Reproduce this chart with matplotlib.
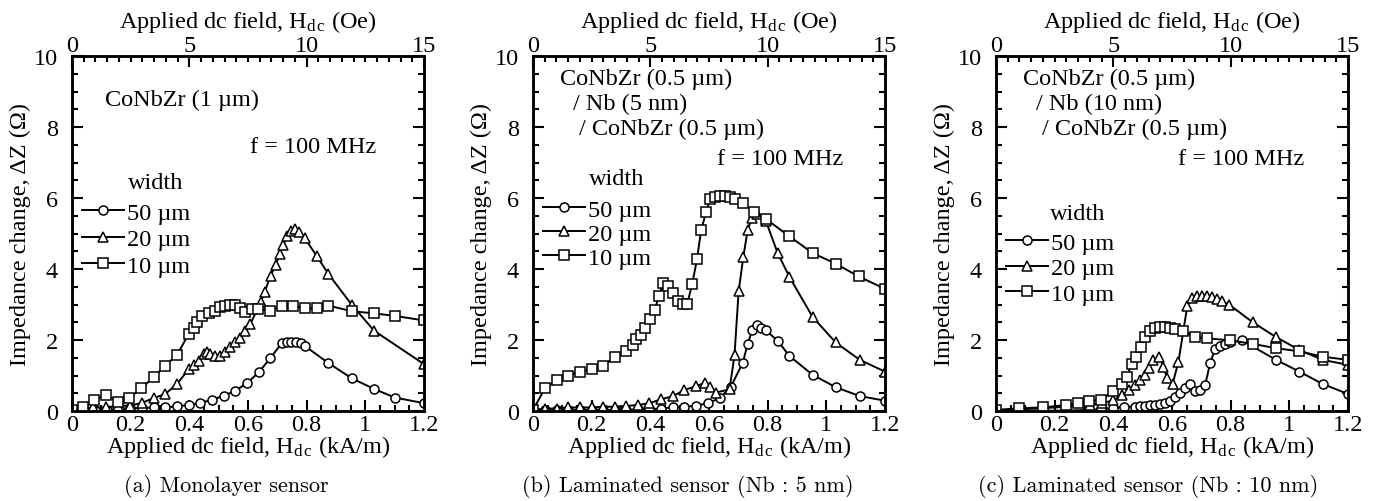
import numpy as np
import matplotlib
matplotlib.use("Agg")
import matplotlib.pyplot as plt
from matplotlib.ticker import MultipleLocator

plt.rcParams['font.family'] = ['Liberation Serif', 'DejaVu Serif']
plt.rcParams['mathtext.fontset'] = 'custom'
plt.rcParams['mathtext.rm'] = 'Liberation Serif'
plt.rcParams['mathtext.it'] = 'Liberation Serif:italic'

# ---- data (x in kA/m, y in ohm) ----
# (a) monolayer
a50_x = [0.0, 0.04, 0.08, 0.12, 0.16, 0.198, 0.238, 0.278, 0.318, 0.358, 0.398, 0.438, 0.478, 0.518,
         0.557, 0.597, 0.637, 0.675, 0.715, 0.732, 0.745, 0.762, 0.78, 0.796, 0.874, 0.954, 1.03, 1.1, 1.2]
a50_y = [0.0, 0.02, 0.03, 0.04, 0.05, 0.08, 0.08, 0.1, 0.1, 0.13, 0.17, 0.23, 0.32, 0.43,
         0.57, 0.79, 1.09, 1.48, 1.91, 1.93, 1.94, 1.94, 1.92, 1.82, 1.35, 0.92, 0.62, 0.38, 0.22]
a20_x = [0.0, 0.036, 0.073, 0.116, 0.158, 0.198, 0.238, 0.278, 0.318, 0.358, 0.398, 0.415, 0.432, 0.449,
         0.46, 0.472, 0.489, 0.506, 0.523, 0.54, 0.557, 0.574, 0.591, 0.608, 0.643, 0.657, 0.677, 0.694,
         0.708, 0.72, 0.734, 0.745, 0.76, 0.774, 0.794, 0.834, 0.874, 0.954, 1.03, 1.2]
a20_y = [0.0, 0.05, 0.1, 0.1, 0.15, 0.15, 0.23, 0.36, 0.48, 0.76, 1.18, 1.3, 1.42, 1.61,
         1.67, 1.61, 1.56, 1.56, 1.65, 1.79, 1.93, 2.07, 2.26, 2.45, 3.06, 3.36, 3.81, 4.11,
         4.42, 4.68, 4.92, 5.08, 5.13, 5.05, 4.86, 4.37, 3.86, 2.99, 2.26, 1.32]
a10_x = [0.0, 0.036, 0.076, 0.116, 0.156, 0.196, 0.236, 0.278, 0.318, 0.358, 0.398, 0.415, 0.426, 0.443,
         0.466, 0.489, 0.506, 0.523, 0.54, 0.557, 0.574, 0.591, 0.614, 0.633, 0.675, 0.715, 0.755, 0.794,
         0.834, 0.874, 0.954, 1.03, 1.1, 1.2]
a10_y = [0.04, 0.1, 0.32, 0.45, 0.26, 0.37, 0.64, 0.95, 1.28, 1.58, 2.17, 2.33, 2.5, 2.69,
         2.76, 2.83, 2.92, 2.97, 2.99, 2.99, 2.89, 2.8, 2.86, 2.87, 2.83, 2.95, 2.97, 2.89,
         2.89, 2.97, 2.81, 2.75, 2.68, 2.55]

# (b) laminated, Nb 5 nm
b50_x = [0.0, 0.041, 0.081, 0.12, 0.16, 0.2, 0.239, 0.279, 0.318, 0.358, 0.397, 0.437, 0.477, 0.516,
         0.556, 0.596, 0.636, 0.675, 0.715, 0.732, 0.747, 0.762, 0.777, 0.794, 0.834, 0.874, 0.953,
         1.032, 1.114, 1.2]
b50_y = [0.0, 0.02, 0.02, 0.03, 0.03, 0.03, 0.03, 0.03, 0.03, 0.05, 0.05, 0.07, 0.1, 0.12,
         0.15, 0.22, 0.36, 0.69, 1.36, 1.89, 2.27, 2.43, 2.34, 2.27, 1.98, 1.55, 1.02,
         0.67, 0.42, 0.29]
b20_x = [0.0, 0.041, 0.081, 0.12, 0.16, 0.2, 0.239, 0.279, 0.318, 0.358, 0.397, 0.437, 0.477, 0.516,
         0.556, 0.588, 0.604, 0.624, 0.67, 0.687, 0.701, 0.717, 0.732, 0.747, 0.762, 0.794, 0.834,
         0.874, 0.953, 1.032, 1.114, 1.2]
b20_y = [0.03, 0.07, 0.07, 0.1, 0.1, 0.1, 0.12, 0.12, 0.14, 0.17, 0.22, 0.33, 0.42, 0.59,
         0.7, 0.8, 0.67, 0.52, 0.61, 1.58, 3.37, 4.34, 5.11, 5.44, 5.54, 5.35, 4.45,
         3.78, 2.65, 1.93, 1.44, 1.11]
b10_x = [0.0, 0.041, 0.081, 0.12, 0.16, 0.2, 0.239, 0.279, 0.318, 0.341, 0.352, 0.369, 0.381, 0.4,
         0.415, 0.429, 0.443, 0.46, 0.477, 0.494, 0.511, 0.526, 0.543, 0.559, 0.573, 0.59, 0.604,
         0.621, 0.639, 0.656, 0.673, 0.69, 0.715, 0.755, 0.794, 0.874, 0.953, 1.032, 1.11, 1.2]
b10_y = [0.03, 0.64, 0.86, 0.99, 1.11, 1.18, 1.27, 1.53, 1.68, 1.86, 2.02, 2.15, 2.34, 2.59,
         2.85, 3.23, 3.61, 3.51, 3.32, 3.09, 3.02, 3.02, 3.59, 4.27, 5.09, 5.6, 5.98,
         6.04, 6.05, 6.05, 6.04, 5.98, 5.85, 5.6, 5.41, 4.92, 4.45, 4.15, 3.79, 3.44]

# (c) laminated, Nb 10 nm
c50_x = [0.0, 0.08, 0.16, 0.239, 0.318, 0.358, 0.398, 0.436, 0.474, 0.491, 0.508, 0.525, 0.542, 0.559,
         0.576, 0.593, 0.61, 0.627, 0.644, 0.661, 0.678, 0.696, 0.713, 0.73, 0.747, 0.764, 0.781,
         0.798, 0.838, 0.955, 1.034, 1.114, 1.2]
c50_y = [0.0, 0.01, 0.01, 0.01, 0.03, 0.05, 0.08, 0.12, 0.12, 0.14, 0.15, 0.16, 0.18, 0.2,
         0.23, 0.29, 0.39, 0.5, 0.64, 0.76, 0.55, 0.59, 0.73, 1.35, 1.74, 1.84, 1.89,
         1.93, 1.99, 1.44, 1.11, 0.76, 0.48]
c20_x = [0.0, 0.08, 0.16, 0.24, 0.32, 0.36, 0.4, 0.43, 0.455, 0.474, 0.491, 0.508, 0.523, 0.536,
         0.557, 0.571, 0.584, 0.602, 0.622, 0.652, 0.667, 0.684, 0.701, 0.718, 0.735, 0.752, 0.77,
         0.796, 0.875, 0.955, 1.034, 1.114, 1.2]
c20_y = [0.0, 0.05, 0.08, 0.12, 0.18, 0.22, 0.3, 0.45, 0.59, 0.73, 0.88, 1.02, 1.21, 1.44,
         1.52, 1.25, 0.92, 0.76, 1.39, 2.95, 3.18, 3.23, 3.23, 3.23, 3.21, 3.16, 3.09,
         2.99, 2.5, 2.08, 1.72, 1.44, 1.3]
c10_x = [0.0, 0.08, 0.159, 0.239, 0.278, 0.318, 0.358, 0.398, 0.428, 0.446, 0.463, 0.477, 0.493, 0.508,
         0.525, 0.542, 0.559, 0.576, 0.593, 0.61, 0.639, 0.678, 0.718, 0.798, 0.875, 0.955, 1.034,
         1.114, 1.2]
c10_y = [0.03, 0.08, 0.1, 0.17, 0.22, 0.29, 0.31, 0.55, 0.76, 0.97, 1.33, 1.53, 1.8, 2.08,
         2.24, 2.34, 2.36, 2.36, 2.34, 2.31, 2.25, 2.08, 2.05, 1.99, 1.89, 1.77, 1.68,
         1.53, 1.44]

widths = ['50 µm', '20 µm', '10 µm']
markers = ['o', '^', 's']
marker_sizes = [6.5, 6.5, 7.5]
captions = ['(a) Monolayer sensor', '(b) Laminated sensor (Nb : 5 nm)', '(c) Laminated sensor (Nb : 10 nm)']
samples = [['CoNbZr (1 µm)'],
           ['CoNbZr (0.5 µm)', '/ Nb (5 nm)', '/ CoNbZr (0.5 µm)'],
           ['CoNbZr (0.5 µm)', '/ Nb (10 nm)', '/ CoNbZr (0.5 µm)']]
panels = [[(a50_x, a50_y), (a20_x, a20_y), (a10_x, a10_y)],
          [(b50_x, b50_y), (b20_x, b20_y), (b10_x, b10_y)],
          [(c50_x, c50_y), (c20_x, c20_y), (c10_x, c10_y)]]

W, H = 1383, 502
fig = plt.figure(figsize=(W / 100, H / 100), dpi=100)

lefts = [72, 533, 996]
wpx = 352
FS = 17.5

# layout of annotations per panel (axes fraction)
sample_pos = [[(0.094, 0.879)],
              [(0.077, 0.938), (0.113, 0.866), (0.130, 0.795)],
              [(0.077, 0.938), (0.113, 0.866), (0.130, 0.795)]]
freq_pos = [(0.507, 0.744), (0.524, 0.711), (0.517, 0.711)]
width_pos = [(0.16, 0.645), (0.16, 0.656), (0.153, 0.555)]
leg_top = [0.589, 0.598, 0.505]
leg_space = [0.18, 0.08, 0.14]
cap_x = [226, 688, 1148]

for i, l in enumerate(lefts):
    ax = fig.add_axes([l / W, 1 - 412 / H, wpx / W, 355 / H])
    for (x, y), m, ms, lab in zip(panels[i], markers, marker_sizes, widths):
        ax.plot(x, y, color='black', lw=1.4, marker=m, ms=ms, mfc='white', mec='black',
                mew=1.1, label=lab)
    ax.set_xlim(0, 1.2)
    ax.set_ylim(0, 10)
    ax.xaxis.set_major_locator(MultipleLocator(0.2))
    ax.xaxis.set_minor_locator(MultipleLocator(0.05))
    ax.yaxis.set_major_locator(MultipleLocator(2))
    ax.yaxis.set_minor_locator(MultipleLocator(0.5))
    ax.set_xticks([0, 0.2, 0.4, 0.6, 0.8, 1.0, 1.2])
    ax.set_xticklabels(['0', '0.2', '0.4', '0.6', '0.8', '1', '1.2'])
    ax.tick_params(which='both', direction='in', right=True, labelsize=FS, width=1.5)
    ax.tick_params(axis='x', pad=2)
    ax.tick_params(axis='y', pad=10)
    ax.tick_params(which='major', length=8)
    ax.tick_params(which='minor', length=4)
    for s in ax.spines.values():
        s.set_linewidth(1.8)
    ax.set_xlabel(r'Applied dc field, H$_{\rm d\,c}$ (kA/m)', fontsize=FS, labelpad=-1)
    ax.set_ylabel(r'Impedance change, ΔZ (Ω)', fontsize=FS, labelpad=2)

    top = ax.twiny()
    top.set_xlim(0, 15)
    top.xaxis.set_major_locator(MultipleLocator(5))
    top.xaxis.set_minor_locator(MultipleLocator(0.5))
    top.tick_params(which='both', direction='in', labelsize=FS, width=1.5, pad=0)
    top.tick_params(which='major', length=8)
    top.tick_params(which='minor', length=4)
    top.set_xlabel(r'Applied dc field, H$_{\rm d\,c}$ (Oe)', fontsize=FS, labelpad=6)
    for s in top.spines.values():
        s.set_linewidth(1.8)

    for txt, (tx, ty) in zip(samples[i], sample_pos[i]):
        ax.text(tx, ty, txt, transform=ax.transAxes, fontsize=FS, va='center', ha='left')
    ax.text(*freq_pos[i], 'f = 100 MHz', transform=ax.transAxes, fontsize=FS, va='center', ha='left')
    ax.text(*width_pos[i], 'width', transform=ax.transAxes, fontsize=FS, va='center', ha='left')
    ax.legend(loc='upper left', bbox_to_anchor=(0.028, leg_top[i]), frameon=False, fontsize=FS,
              handlelength=1.75, handletextpad=0.12, labelspacing=leg_space[i], borderaxespad=0,
              borderpad=0)

    fig.text(cap_x[i] / W, 1 - 487 / H, captions[i], fontsize=16, family='cmr10',
             ha='center', va='center')

fig.savefig('out.png', dpi=100)
